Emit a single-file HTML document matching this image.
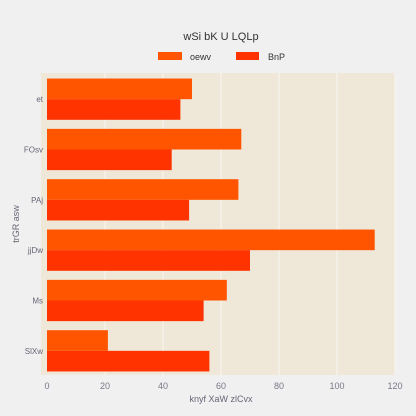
<!DOCTYPE html>
<html><head><meta charset="utf-8"><style>
html,body{margin:0;padding:0;background:#f0f0f0;}
svg{display:block;font-family:"Liberation Sans","DejaVu Sans",sans-serif;}
</style></head><body>
<svg id="chart" width="416" height="416">
<rect width="416" height="416" fill="#f0f0f0"/>
<text x="221" y="40" text-anchor="middle" font-size="11" fill="#333">wSi bK U LQLp</text>
<g>
<rect x="158" y="52" width="24" height="8" fill="#ff5500"/>
<text x="190" y="60" font-size="9" fill="#333">oewv</text>
<rect x="236" y="52" width="23" height="8" fill="#ff3300"/>
<text x="268" y="60" font-size="9" fill="#333">BnP</text>
</g>
<rect x="41" y="73" width="354" height="302" fill="#efe8d8"/>
<g id="grid"></g><g id="bars"></g><g id="axes"></g>
<text x="221" y="402" text-anchor="middle" font-size="9" fill="#667">knyf XaW zlCvx</text>
<text transform="translate(19,224) rotate(-90)" text-anchor="middle" font-size="9" fill="#667">trGR asw</text>
</svg>
<script>
const categories=["et","FOsv","PAj","jjDw","Ms","SlXw"];
const seriesOewv=[50,67,66,113,62,21];
const seriesBnP=[46,43,49,70,54,56];
const xTicks=[0,20,40,60,80,100,120];
const ns="http://www.w3.org/2000/svg";
const x0=47,x1=395,yTop=74,yBot=376;
const xs=v=>x0+(v-0)/(120-0)*(x1-x0);
const band=(yBot-yTop)/categories.length;
const yb=i=>yTop+i*band;
function mk(tag,attrs,parent){const e=document.createElementNS(ns,tag);for(const k in attrs)e.setAttribute(k,attrs[k]);document.getElementById(parent).appendChild(e);return e;}
xTicks.forEach(t=>{
 if(t>0){const l=mk("line",{x1:xs(t),x2:xs(t),y1:73,y2:375,stroke:"#f8f6f0","stroke-width":1},"grid");
 
 }
 const tx=mk("text",{x:xs(t),y:389,"text-anchor":"middle","font-size":"9","fill":"#778"},"axes");
 tx.textContent=t;
 
 
});
const pad=band*0.09,bh=(band-2*pad)/2;
categories.forEach((c,i)=>{
 const a=mk("rect",{x:x0,y:yb(i)+pad,width:xs(seriesOewv[i])-x0,height:bh,fill:"#ff5500"},"bars");
 
 
 const b=mk("rect",{x:x0,y:yb(i)+pad+bh,width:xs(seriesBnP[i])-x0,height:bh,fill:"#ff3300"},"bars");
 
 
 const t=mk("text",{x:43,y:yb(i)+band/2+3,"text-anchor":"end","font-size":"8","fill":"#667"},"axes");
 t.textContent=c;
 
 
});
</script>
</body></html>
